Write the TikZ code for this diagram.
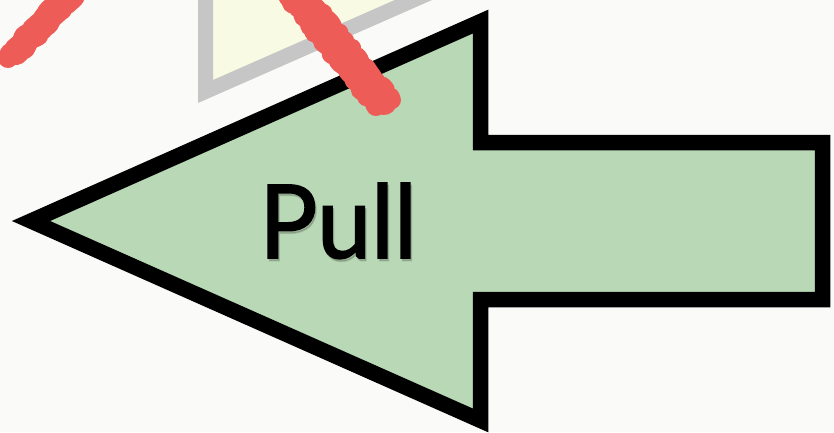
\documentclass[tikz,border=0pt]{standalone}
\usepackage{fontspec}
\setmainfont{Lato}
\newfontfamily\pullfont[FakeBold=1.6,FakeStretch=0.95]{Lato}
\usetikzlibrary{decorations.pathmorphing}

\definecolor{paper}{HTML}{FAFAF8}
\definecolor{pullgreen}{HTML}{B9D8B6}
\definecolor{framegray}{HTML}{C6C6C6}
\definecolor{paleyellow}{HTML}{F9FAE3}
\definecolor{brushred}{HTML}{EE5C58}

\tikzset{
  arrowbody/.style={draw=black, fill=pullgreen, line width=15.5pt, line join=miter},
  framebox/.style={draw=framegray, fill=paleyellow, line width=15pt, line join=miter},
  brush/.style={draw=brushred, line cap=round, line join=round, decorate,
    decoration={random steps, segment length=4pt, amplitude=2pt}},
  pulltext/.style={font=\pullfont\fontsize{102}{102}\selectfont, inner sep=0pt, anchor=base},
}

\begin{document}
\begin{tikzpicture}[x=1pt,y=-1pt]
\pgfmathsetseed{7}
\fill[paper] (0,0) rectangle (834,432);
\useasboundingbox (0,0) rectangle (834,432);
\begin{scope}
\clip (0,0) rectangle (834,432);
% pale frame behind, cut by the page edge
\draw[framebox] (205.5,-40) -- (205.5,91.5) -- (512,-43.4) -- cycle;
% the arrow
\draw[arrowbody] (31,221) -- (480.5,21.6) -- (480.5,142.5) -- (822.5,142.5)
  -- (822.5,299.5) -- (480.5,299.5) -- (480.5,420.4) -- cycle;
% red crossing strokes
\draw[brush, line width=26pt] (16,52) -- (72,-8);
\draw[brush, line width=20pt] (8,58) -- (64,0);
\draw[brush, line width=18pt] (24,50) -- (80,-10);
\draw[brush, line width=26pt] (296,-10) -- (384,102);
\draw[brush, line width=20pt] (288,-4) -- (376,106);
\draw[brush, line width=18pt] (304,-8) -- (392,100);
\end{scope}
% label with a soft shadow
\node[pulltext, text=black, opacity=0.15] (pullshadow) at (339.5,260.5) {Pull};
\node[pulltext] (pull) at (338,258) {Pull};
\end{tikzpicture}
\end{document}
